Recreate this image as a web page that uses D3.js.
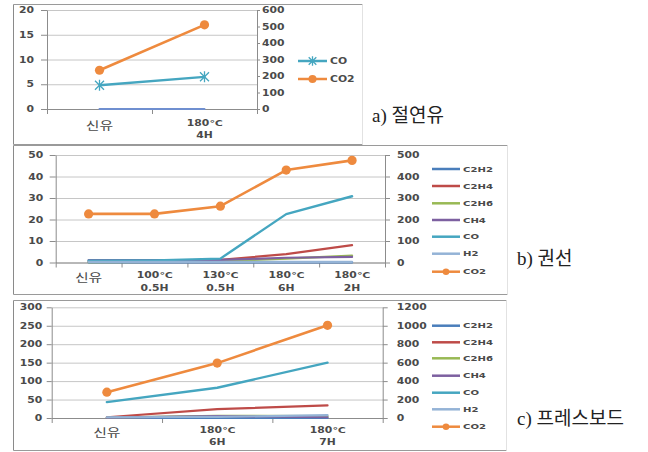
<!DOCTYPE html>
<html><head><meta charset="utf-8">
<script src="https://cdn.jsdelivr.net/npm/d3@7"></script>
<style>body{margin:0;background:#fff} svg{display:block}</style>
</head><body><svg id="c" width="648" height="452"></svg>
<script>
// ---------- data ----------
const aCategories = [["신유"], ["180℃", "4H"]];
const aCO = [4.8, 6.5];
const aCO2 = [235, 510];
const aH2 = [0, 0];
const aLeftTicks = [0, 5, 10, 15, 20];
const aRightTicks = [0, 100, 200, 300, 400, 500, 600];

const bCategories = [["신유"], ["100℃", "0.5H"], ["130℃", "0.5H"], ["180℃", "6H"], ["180℃", "2H"]];
const bC2H2 = [0, 0, 0, 0, 0];
const bC2H4 = [0.5, 0.6, 1.2, 3.9, 8.1];
const bC2H6 = [0.2, 0.3, 0.6, 1.8, 3.2];
const bCH4 = [1.1, 1.1, 1.2, 2.2, 2.6];
const bCO = [0.8, 1.0, 1.8, 22.5, 30.8];
const bH2 = [0.3, 0.3, 0.3, 0.3, 0.3];
const bCO2 = [226, 226, 262, 430, 475];
const bLeftTicks = [0, 10, 20, 30, 40, 50];
const bRightTicks = [0, 100, 200, 300, 400, 500];

const cCategories = [["신유"], ["180℃", "6H"], ["180℃", "7H"]];
const cC2H2 = [0, 0, 0];
const cC2H4 = [2, 24, 34];
const cC2H6 = [1, 6, 5];
const cCH4 = [1, 5, 2];
const cCO = [43, 82, 150];
const cH2 = [2, 3, 8];
const cCO2 = [280, 595, 1005];
const cLeftTicks = [0, 50, 100, 150, 200, 250, 300];
const cRightTicks = [0, 200, 400, 600, 800, 1000, 1200];

const gasNames = ["C2H2", "C2H4", "C2H6", "CH4", "CO", "H2", "CO2"];
const panelLabels = ["a) 절연유", "b) 권선", "c) 프레스보드"];

// ---------- style ----------
const colors = {C2H2: "#4A7EBB", C2H4: "#BE4B48", C2H6: "#98B954", CH4: "#7D60A0",
  CO: "#45A6C0", H2: "#94B3D6", CO2: "#EE8A3E"};
const SX = 1.35;
const svg = d3.select("#c");
const fmt = d3.format("d");

function stretch(sel, sx) {
  sel.each(function () {
    const t = d3.select(this);
    const x = +t.attr("x") || 0;
    t.attr("x", x / sx).attr("transform", `scale(${sx},1)`);
  });
}
function numStyle(sel) {
  sel.attr("font-family", "DejaVu Sans").attr("font-size", 8).attr("font-weight", "bold").attr("fill", "#4a4a4a");
}

function chart(o) {
  const g = svg.append("g");
  // frame
  const f = o.frame;
  g.append("line").attr("x1", f[0]).attr("x2", f[2]).attr("y1", f[1]).attr("y2", f[1]).attr("stroke", "#9a9a9a");
  g.append("line").attr("x1", f[0]).attr("x2", f[0]).attr("y1", f[1]).attr("y2", f[3]).attr("stroke", "#8a8a8a");
  g.append("line").attr("x1", f[0]).attr("x2", f[2]).attr("y1", f[3]).attr("y2", f[3]).attr("stroke", "#9a9a9a");
  g.append("line").attr("x1", f[2]).attr("x2", f[2]).attr("y1", f[1]).attr("y2", f[3]).attr("stroke", "#e2e2e2");

  const n = o.categories.length;
  const xb = d3.scaleBand().domain(d3.range(n)).range([o.x0, o.x1]);
  const xe = d3.scaleLinear().domain([0, n]).range([o.x0, o.x1]);
  const yL = d3.scaleLinear().domain([0, d3.max(o.leftTicks)]).range([o.yB, o.yT]);
  const yR = d3.scaleLinear().domain([0, d3.max(o.rightTicks)]).range([o.yB, o.yT]);

  // gridlines
  const grid = g.append("g").attr("transform", `translate(${o.x0},0)`)
    .call(d3.axisLeft(yL).tickValues(o.leftTicks).tickSize(-(o.x1 - o.x0)).tickFormat(""));
  grid.select(".domain").remove();
  grid.selectAll("line").attr("stroke", "#c6c6c6");

  // left axis
  const la = g.append("g").attr("transform", `translate(${o.x0},0)`)
    .call(d3.axisLeft(yL).tickValues(o.leftTicks).tickFormat(fmt).tickSizeInner(o.lTick).tickSizeOuter(0).tickPadding(o.lPad));
  la.select(".domain").attr("stroke", "#8c8c8c");
  la.selectAll("line").attr("stroke", "#8c8c8c");
  la.selectAll("text").call(numStyle).call(stretch, SX);

  // right axis
  const ra = g.append("g").attr("transform", `translate(${o.x1},0)`)
    .call(d3.axisRight(yR).tickValues(o.rightTicks).tickFormat(fmt).tickSizeInner(o.rTick).tickSizeOuter(0).tickPadding(o.rPad));
  ra.select(".domain").attr("stroke", "#8c8c8c");
  ra.selectAll("line").attr("stroke", "#8c8c8c");
  ra.selectAll("text").call(numStyle).call(stretch, SX);

  // bottom axis (ticks between categories)
  const ba = g.append("g").attr("transform", `translate(0,${o.yB})`)
    .call(d3.axisBottom(xe).tickValues(d3.range(n + 1)).tickSizeInner(5).tickSizeOuter(0).tickFormat(""));
  ba.select(".domain").attr("stroke", "#8c8c8c");
  ba.selectAll("line").attr("stroke", "#8c8c8c");

  // category labels
  o.categories.forEach((lines, i) => {
    const cx = xb(i) + xb.bandwidth() / 2;
    if (lines.length === 1) {
      g.append("text").attr("x", cx).attr("y", o.yB + o.kOff).attr("text-anchor", "middle")
        .attr("font-family", "Noto Sans CJK KR").attr("font-size", 11).attr("fill", "#4a4a4a")
        .text(lines[0]).call(stretch, SX);
    } else {
      lines.forEach((t, j) => {
        g.append("text").attr("x", cx).attr("y", o.yB + o.lineOff[j]).attr("text-anchor", "middle")
          .call(numStyle).text(t).call(stretch, SX);
      });
    }
  });

  // series
  o.series.forEach(s => {
    const y = s.axis === "right" ? yR : yL;
    const px = (d, i) => xb(i) + xb.bandwidth() / 2;
    const line = d3.line().x(px).y(d => y(d));
    g.append("path").datum(s.values).attr("d", line).attr("fill", "none")
      .attr("stroke", s.color).attr("stroke-width", s.w).attr("stroke-linejoin", "round").attr("stroke-linecap", "round");
    if (s.marker === "circle") {
      g.selectAll(null).data(s.values).enter().append("circle")
        .attr("cx", px).attr("cy", d => y(d)).attr("r", 4.6).attr("fill", s.color);
    } else if (s.marker === "star") {
      const r = 4.5;
      s.values.forEach((d, i) => {
        const cx = px(d, i), cy = y(d);
        g.append("path").attr("d", `M${cx - r},${cy - r}L${cx + r},${cy + r}M${cx - r},${cy + r}L${cx + r},${cy - r}M${cx},${cy - r - 1}L${cx},${cy + r + 1}`)
          .attr("stroke", s.color).attr("stroke-width", 1.3).attr("fill", "none");
      });
    }
  });

  // legend
  o.legend.items.forEach((s, i) => {
    const ly = o.legend.ys[i];
    const lx = o.legend.x;
    g.append("line").attr("x1", lx).attr("x2", lx + o.legend.len).attr("y1", ly).attr("y2", ly)
      .attr("stroke", s.color).attr("stroke-width", 2.5);
    const mx = lx + o.legend.len / 2;
    if (s.marker === "circle") {
      g.append("circle").attr("cx", mx).attr("cy", ly).attr("r", o.legend.mr).attr("fill", s.color);
    } else if (s.marker === "star") {
      const r = 3.8;
      g.append("path").attr("d", `M${mx - r},${ly - r}L${mx + r},${ly + r}M${mx - r},${ly + r}L${mx + r},${ly - r}M${mx},${ly - r - 1}L${mx},${ly + r + 1}`)
        .attr("stroke", s.color).attr("stroke-width", 1.3);
    }
    g.append("text").attr("x", lx + o.legend.len + 3).attr("y", ly).attr("dy", "0.36em")
      .attr("font-family", "DejaVu Sans").attr("font-size", o.legend.fs).attr("font-weight", "bold").attr("fill", "#4a4a4a")
      .text(s.name).call(stretch, SX);
  });

  // panel label
  g.append("text").attr("x", o.label.x).attr("y", o.label.y)
    .attr("font-family", "Liberation Serif, Noto Sans CJK KR").attr("font-size", 19).attr("fill", "#222")
    .text(o.label.text);
}

function gasSeries(vals) {
  return gasNames.map((nm, i) => ({
    name: nm, values: vals[i], color: colors[nm],
    axis: nm === "CO2" ? "right" : "left",
    marker: nm === "CO2" ? "circle" : null,
    w: nm === "CO2" ? 2.6 : (nm === "CO" ? 2.4 : 2.2)
  }));
}

// ---- chart a ----
const aSeries = [
  {name: "H2", values: aH2, color: "#6F8FD0", axis: "left", marker: null, w: 2},
  {name: "CO", values: aCO, color: colors.CO, axis: "left", marker: "star", w: 2.4},
  {name: "CO2", values: aCO2, color: colors.CO2, axis: "right", marker: "circle", w: 2.6}
];
chart({
  frame: [13.5, 4.5, 362.5, 144.5],
  x0: 47, x1: 257, yB: 109, yT: 10,
  leftTicks: aLeftTicks, rightTicks: aRightTicks,
  lTick: 6, lPad: 7, rTick: 3, rPad: 2,
  categories: aCategories, kOff: 21, lineOff: [17, 29.5],
  series: aSeries,
  legend: {x: 298, len: 29, ys: [61, 79], mr: 4, fs: 8, items: aSeries.slice(1)},
  label: {x: 372, y: 122, text: panelLabels[0]}
});

// ---- chart b ----
const bSeries = gasSeries([bC2H2, bC2H4, bC2H6, bCH4, bCO, bH2, bCO2]);
chart({
  frame: [13.5, 145.5, 507.5, 294.5],
  x0: 55.7, x1: 385, yB: 262.5, yT: 155,
  leftTicks: bLeftTicks, rightTicks: bRightTicks,
  lTick: 6, lPad: 6.5, rTick: 5, rPad: 7,
  categories: bCategories, kOff: 20, lineOff: [15.5, 28.5],
  series: bSeries,
  legend: {x: 432, len: 28, ys: [169, 186, 203.3, 220, 236.7, 253.7, 271.7], mr: 3.3, fs: 7.5, items: bSeries},
  label: {x: 517, y: 265, text: panelLabels[1]}
});

// ---- chart c ----
const cSeries = gasSeries([cC2H2, cC2H4, cC2H6, cCH4, cCO, cH2, cCO2]);
chart({
  frame: [13.5, 300.5, 506.5, 450.5],
  x0: 51.7, x1: 382.7, yB: 418, yT: 307.3,
  leftTicks: cLeftTicks, rightTicks: cRightTicks,
  lTick: 5, lPad: 4.5, rTick: 5, rPad: 9,
  categories: cCategories, kOff: 19.5, lineOff: [15.5, 27],
  series: cSeries,
  legend: {x: 432, len: 28, ys: [325.7, 342.3, 358.3, 375.7, 392.7, 409.3, 426.7], mr: 3.3, fs: 7.5, items: cSeries},
  label: {x: 517, y: 425, text: panelLabels[2]}
});
</script></body></html>
